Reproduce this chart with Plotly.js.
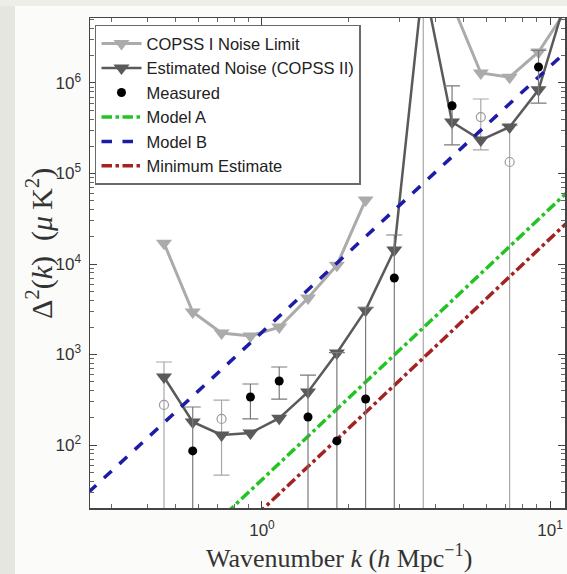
<!DOCTYPE html>
<html><head><meta charset="utf-8">
<script src="https://cdn.plot.ly/plotly-3.0.1.min.js"></script>
<style>html,body{margin:0;padding:0;background:#fbfbf9;}</style>
</head><body><div id="chart" style="width:567px;height:574px;"></div>
<script>
// ---- data ----
const kBins = [0.457, 0.575, 0.724, 0.912, 1.148, 1.445, 1.82, 2.29, 2.88, 3.63, 4.57, 5.75, 7.24, 9.12, 11.48];
const copss1Noise = [1.7e4, 2950, 1730, 1600, 2010, 4200, 9700, 5.1e4, null, null, 7.5e6, 1.29e6, 1.16e6, 2.2e6, 6.7e6];
const estNoise = [564, 180, 129, 136, 198, 385, 1040, 3090, 1.43e4, 1.4e7, 3.7e5, 2.34e5, 3.27e5, 8.4e5, 9.5e6];

const measK   = [0.575, 0.912, 1.148, 1.445, 1.82, 2.29, 2.88, 4.57, 9.12];
const measVal = [86, 339, 509, 204, 111, 322, 7000, 5.6e5, 1.5e6];
const measHi  = [263, 472, 728, 593, 1050, 3300, 2.09e4, 9.3e5, 2.3e6];
const measLo  = [null, 194, 322, null, null, null, null, 2.07e5, 6.0e5];

const negK   = [0.457, 0.724, 3.63, 5.75, 7.24];
const negVal = [277, 194, 2e7, 4.2e5, 1.34e5];
const negHi  = [826, 314, 1e9, 6.65e5, 3.4e5];
const negLo  = [null, 46.5, null, 1.82e5, null];

const modelK = [0.25, 11.5];
const modelA = [0.65, 6.25e4];
const modelB = [30, 2.3e6];
const minEst = [0.30, 2.9e4];

const xTickVals = [1, 10];
const xTickText = ['10<sup>0</sup>', '10<sup>1</sup>'];
const yTickVals = [1e2, 1e3, 1e4, 1e5, 1e6];
const yTickText = ['10<sup>2</sup>', '10<sup>3</sup>', '10<sup>4</sup>', '10<sup>5</sup>', '10<sup>6</sup>'];

const xTitle = 'Wavenumber <i>k</i> (<i>h</i> Mpc<sup>\u22121</sup>)';
const yTitle = '\u0394<sup>2</sup>(<i>k</i>)\u00a0\u00a0(<i>\u03bc</i>\u2009K<sup>2</sup>)';

// ---- helpers ----
function plusArr(v, hi) { return v.map((d, i) => hi[i] - d); }
function minusArr(v, lo) { return v.map((d, i) => lo[i] == null ? 2 * d : d - lo[i]); }
function minorTicks(d0, d1) { const t = []; for (let e = d0; e <= d1; e++) for (let m = 2; m <= 9; m++) t.push(m * Math.pow(10, e)); return t; }

const sans = 'Liberation Sans, Arial, Helvetica, sans-serif';
const serif = 'Liberation Serif, Times New Roman, serif';

const traces = [
  { x: negK, y: negVal, type: 'scatter', mode: 'markers', showlegend: false, hoverinfo: 'skip',
    marker: { symbol: 'circle-open', size: 9, color: '#9a9a9a', line: { width: 1.2, color: '#9a9a9a' } },
    error_y: { type: 'data', symmetric: false, array: plusArr(negVal, negHi), arrayminus: minusArr(negVal, negLo), color: '#a8a8a8', thickness: 1.2, width: 8 } },
  { x: kBins, y: copss1Noise, type: 'scatter', mode: 'lines+markers', name: 'COPSS I Noise Limit', legendrank: 1, connectgaps: false,
    line: { color: '#ababab', width: 3 }, marker: { symbol: 'triangle-down', size: 14, color: '#ababab' } },
  { x: kBins, y: estNoise, type: 'scatter', mode: 'lines+markers', name: 'Estimated Noise (COPSS II)', legendrank: 2,
    line: { color: '#5a5a5a', width: 2.5 }, marker: { symbol: 'triangle-down', size: 14, color: '#5a5a5a' } },
  { x: modelK, y: modelA, type: 'scatter', mode: 'lines', name: 'Model A', legendrank: 4,
    line: { color: '#22c422', width: 3.5, dash: 'dashdot' } },
  { x: modelK, y: modelB, type: 'scatter', mode: 'lines', name: 'Model B', legendrank: 5,
    line: { color: '#1c1ca6', width: 3.5, dash: 'dash' } },
  { x: modelK, y: minEst, type: 'scatter', mode: 'lines', name: 'Minimum Estimate', legendrank: 6,
    line: { color: '#a42222', width: 3.5, dash: 'dashdot' } },
  { x: measK, y: measVal, type: 'scatter', mode: 'markers', name: 'Measured', legendrank: 3,
    marker: { symbol: 'circle', size: 9, color: '#000' },
    error_y: { type: 'data', symmetric: false, array: plusArr(measVal, measHi), arrayminus: minusArr(measVal, measLo), color: '#7a7a7a', thickness: 1.2, width: 8 } }
];

const W = 475, H = 490;
const axisCommon = {
  type: 'log', tickmode: 'array', ticks: 'inside', ticklen: 7, tickwidth: 1, tickcolor: '#444',
  mirror: 'allticks', showline: true, linecolor: '#444', linewidth: 1.5, showgrid: false, zeroline: false,
  tickfont: { family: sans, size: 17, color: '#333' }
};
const layout = {
  width: 567, height: 574,
  margin: { l: 90, r: 2, t: 18, b: 66 },
  paper_bgcolor: '#fbfbf9', plot_bgcolor: '#ffffff',
  showlegend: true,
  legend: { x: 0.0105, y: 0.986, xanchor: 'left', yanchor: 'top', bgcolor: '#ffffff', bordercolor: '#6a6a6a', borderwidth: 1.5,
            font: { family: sans, size: 16.5, color: '#222' }, tracegroupgap: 0, itemwidth: 40 },
  xaxis: Object.assign({}, axisCommon, {
           range: [Math.log10(0.253), Math.log10(11.27)], tickvals: xTickVals, ticktext: xTickText, ticklabelstandoff: 6,
           minor: { tickmode: 'array', tickvals: minorTicks(-1, 1), ticks: 'inside', ticklen: 4, tickcolor: '#666', showgrid: false } }),
  yaxis: Object.assign({}, axisCommon, {
           range: [1.304, 6.718], tickvals: yTickVals, ticktext: yTickText, ticklabelstandoff: 4,
           minor: { tickmode: 'array', tickvals: minorTicks(1, 6), ticks: 'inside', ticklen: 4, tickcolor: '#666', showgrid: false } }),
  annotations: [
    { text: xTitle, xref: 'paper', yref: 'paper', x: (339 - 90) / W, y: (508 - 556) / H, xanchor: 'center', yanchor: 'middle',
      showarrow: false, font: { family: serif, size: 26, color: '#333' } },
    { text: yTitle, xref: 'paper', yref: 'paper', x: (39 - 90) / W, y: (508 - 244) / H, xanchor: 'center', yanchor: 'middle',
      textangle: -90, showarrow: false, font: { family: serif, size: 30, color: '#333' } }
  ],
  shapes: [
    { type: 'rect', xref: 'paper', yref: 'paper', layer: 'below', x0: -90 / W, x1: (15 - 90) / W, y0: -66 / H, y1: 1 + 18 / H, fillcolor: '#e6e6e1', line: { width: 0 } },
    { type: 'rect', xref: 'paper', yref: 'paper', layer: 'below', x0: -90 / W, x1: 1 + 2 / W, y0: 1 + 12 / H, y1: 1 + 18 / H, fillcolor: '#efeee6', line: { width: 0 } }
  ]
};

Plotly.newPlot('chart', traces, layout, { displayModeBar: false, staticPlot: true });
</script></body></html>
